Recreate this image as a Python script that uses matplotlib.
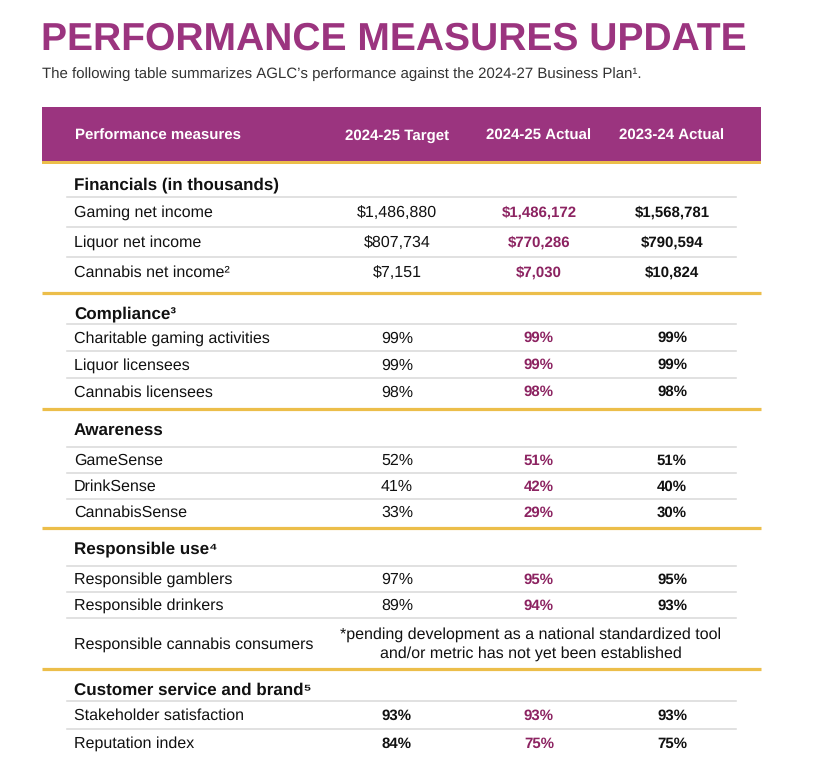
import matplotlib
matplotlib.use("Agg")
import matplotlib.pyplot as plt
from matplotlib import font_manager

# ---- table content -------------------------------------------------------
TITLE = "PERFORMANCE MEASURES UPDATE"
SUBTITLE = ("The following table summarizes AGLC\u2019s performance against "
            "the 2024-27 Business Plan\u00b9.")
COLUMNS = ["Performance measures", "2024-25 Target", "2024-25 Actual", "2023-24 Actual"]
SECTIONS = ["Financials (in thousands)", "Compliance\u00b3", "Awareness",
            "Responsible use\u2074", "Customer service and brand\u2075"]
MEASURES = ["Gaming net income", "Liquor net income", "Cannabis net income\u00b2",
            "Charitable gaming activities", "Liquor licensees", "Cannabis licensees",
            "GameSense", "DrinkSense", "CannabisSense",
            "Responsible gamblers", "Responsible drinkers", "Responsible cannabis consumers",
            "Stakeholder satisfaction", "Reputation index"]
SECTION_OF = [0, 0, 0, 1, 1, 1, 2, 2, 2, 3, 3, 3, 4, 4]
TARGET = ["$1,486,880", "$807,734", "$7,151", "99%", "99%", "98%",
          "52%", "41%", "33%", "97%", "89%", None, "93%", "84%"]
ACTUAL_2425 = ["$1,486,172", "$770,286", "$7,030", "99%", "99%", "98%",
               "51%", "42%", "29%", "95%", "94%", None, "93%", "75%"]
ACTUAL_2324 = ["$1,568,781", "$790,594", "$10,824", "99%", "99%", "98%",
               "51%", "40%", "30%", "95%", "93%", None, "93%", "75%"]
PENDING_NOTE = ["*pending development as a national standardized tool",
                "and/or metric has not yet been established"]

# ---- style / layout (pixels) --------------------------------------------
W, H, DPI = 815, 782, 100
PURPLE = "#9b347f"
VALUE_PURPLE = "#8c2361"
GOLD = "#ecbe4a"
GRID = "#d8d8d8"
INK = "#111111"
PT = 0.72    # points per pixel at 100 dpi
CAP = 0.716  # cap height / em for Arial-metric fonts

names = {f.name for f in font_manager.fontManager.ttflist}
FONT = "Liberation Sans" if "Liberation Sans" in names else "DejaVu Sans"
plt.rcParams["font.family"] = [FONT, "DejaVu Sans"]
plt.rcParams["text.hinting"] = "no_hinting"
plt.rcParams["text.hinting_factor"] = 1

X0, X1 = 42, 761          # table band extent
GX0, GX1 = 67, 736        # thin row rules
LABEL_X = 74
COL_X = [397, 539, 672]
HEAD_H = [33, 31, 38, 38, 32]
ROW_H = [30, 27, 26, 26, 28]
END_PAD = [6, 4, 3, 0, 0]
PENDING_H = 51
BOLD_TARGET_SECTIONS = {4}

BODY_PX, BOLD_PX, SECTION_PX, HEAD_PX = 15.6, 14.9, 16.6, 14.6

fig = plt.figure(figsize=(W / DPI, H / DPI), dpi=DPI)
ax = fig.add_axes([0, 0, 1, 1])
ax.set_xlim(0, W)
ax.set_ylim(H, 0)
ax.axis("off")


def put(x, cy, s, px, **kw):
    """Place text so its cap height is centred on cy."""
    ax.text(x, cy + CAP * px / 2, s, fontsize=px * PT, va="baseline", **kw)


put(41, 35.5, TITLE, 39.4, fontweight="bold", color=PURPLE)
put(42, 73, SUBTITLE, 14.5, color="#333333")

# header band
ax.add_patch(plt.Rectangle((X0, 107), X1 - X0, 54, color=PURPLE, lw=0))
ax.add_patch(plt.Rectangle((X0, 161), X1 - X0, 3, color=GOLD, lw=0))
put(LABEL_X + 1, 135, COLUMNS[0], HEAD_PX, color="white", fontweight="bold")
for cx, col in zip(COL_X, COLUMNS[1:]):
    put(cx, 135, col, HEAD_PX, color="white", fontweight="bold", ha="center")

y = 164
for s, sec in enumerate(SECTIONS):
    put(LABEL_X, y + 19.5, sec, SECTION_PX, fontweight="bold", color=INK)
    y += HEAD_H[s]
    for i, name in enumerate(MEASURES):
        if SECTION_OF[i] != s:
            continue
        ax.plot([GX0, GX1], [y, y], color=GRID, lw=1.1)
        h = PENDING_H if TARGET[i] is None else ROW_H[s]
        cy = y + h / 2 - 0.5
        put(LABEL_X, cy, name, BODY_PX, color=INK)
        if TARGET[i] is None:
            put(531, cy - 9.5, PENDING_NOTE[0], BODY_PX, color=INK, ha="center")
            put(531, cy + 9.5, PENDING_NOTE[1], BODY_PX, color=INK, ha="center")
        else:
            bold_t = s in BOLD_TARGET_SECTIONS
            put(COL_X[0], cy, TARGET[i], BOLD_PX if bold_t else BODY_PX, color=INK,
                fontweight="bold" if bold_t else "normal", ha="center")
            put(COL_X[1], cy, ACTUAL_2425[i], BOLD_PX, color=VALUE_PURPLE,
                fontweight="bold", ha="center")
            put(COL_X[2], cy, ACTUAL_2324[i], BOLD_PX, color=INK,
                fontweight="bold", ha="center")
        y += h
    y += END_PAD[s]
    if s < len(SECTIONS) - 1:
        ax.plot([X0, X1], [y, y], color=GOLD, lw=2.3, solid_capstyle="butt")

fig.savefig("out.png", dpi=DPI)
